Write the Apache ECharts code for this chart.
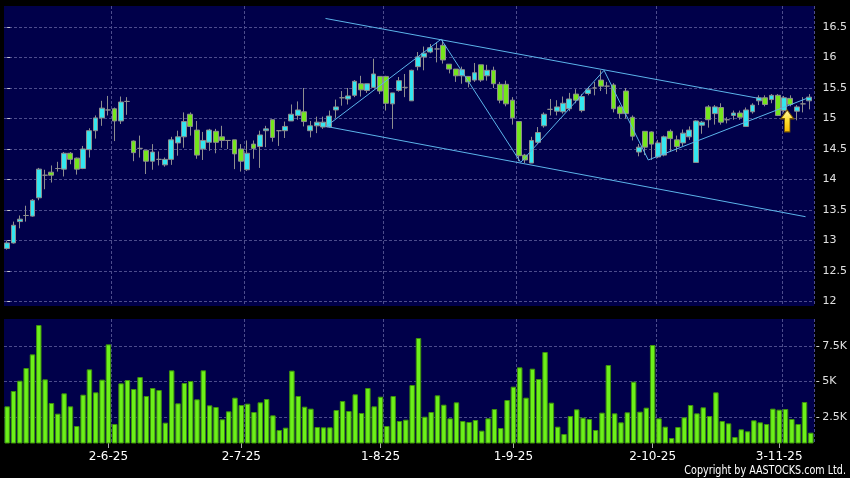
<!DOCTYPE html>
<html><head><meta charset="utf-8">
<script src="https://cdn.jsdelivr.net/npm/echarts@6/dist/echarts.min.js"></script>
<style>html,body{margin:0;padding:0;background:#000;}#c{width:850px;height:478px;}</style>
</head><body><div id="c"></div><script>
const dates = [
'9-5-25','12-5-25','13-5-25','14-5-25','15-5-25','16-5-25','19-5-25','20-5-25','21-5-25','22-5-25','23-5-25','26-5-25','27-5-25','28-5-25','29-5-25','30-5-25',
'2-6-25','3-6-25','4-6-25','5-6-25','6-6-25','9-6-25','10-6-25','11-6-25','12-6-25','13-6-25','16-6-25','17-6-25','18-6-25','19-6-25','20-6-25','23-6-25','24-6-25','25-6-25','26-6-25','27-6-25','30-6-25',
'2-7-25','3-7-25','4-7-25','7-7-25','8-7-25','9-7-25','10-7-25','11-7-25','14-7-25','15-7-25','16-7-25','17-7-25','18-7-25','21-7-25','22-7-25','23-7-25','24-7-25','25-7-25','28-7-25','29-7-25','30-7-25','31-7-25',
'1-8-25','4-8-25','5-8-25','6-8-25','7-8-25','8-8-25','11-8-25','12-8-25','13-8-25','14-8-25','15-8-25','18-8-25','19-8-25','20-8-25','21-8-25','22-8-25','25-8-25','26-8-25','27-8-25','28-8-25','29-8-25',
'1-9-25','2-9-25','3-9-25','4-9-25','5-9-25','8-9-25','9-9-25','10-9-25','11-9-25','12-9-25','15-9-25','16-9-25','17-9-25','18-9-25','19-9-25','22-9-25','23-9-25','24-9-25','25-9-25','26-9-25','29-9-25','30-9-25',
'2-10-25','3-10-25','6-10-25','8-10-25','9-10-25','10-10-25','13-10-25','14-10-25','15-10-25','16-10-25','17-10-25','20-10-25','21-10-25','22-10-25','23-10-25','24-10-25','27-10-25','28-10-25','30-10-25','31-10-25',
'3-11-25','4-11-25','5-11-25','6-11-25','7-11-25','10-11-25'
];
// [open, close, low, high]
const ohlc = [
[12.87,12.96,12.85,12.99],[12.96,13.25,12.95,13.31],[13.31,13.35,13.20,13.41],[13.41,13.41,13.31,13.57],[13.40,13.66,13.39,13.68],
[13.70,14.17,13.66,14.19],[14.07,14.07,13.84,14.16],[14.12,14.07,13.95,14.23],[14.18,14.18,14.13,14.29],[14.17,14.43,14.05,14.45],
[14.43,14.33,14.25,14.45],[14.35,14.17,14.08,14.36],[14.18,14.50,14.17,14.55],[14.49,14.80,14.36,14.84],[14.80,15.01,14.67,15.05],
[15.01,15.17,14.88,15.29],[15.14,15.14,15.05,15.37],[15.16,14.96,14.63,15.18],[14.96,15.27,14.91,15.36],[15.28,15.28,15.06,15.35],
[14.63,14.44,14.30,14.64],[14.51,14.51,14.36,14.72],[14.48,14.30,14.09,14.48],[14.30,14.45,14.16,14.58],[14.33,14.33,14.23,14.46],
[14.24,14.33,14.21,14.36],[14.33,14.65,14.24,14.70],[14.60,14.70,14.39,14.80],[14.70,14.95,14.52,15.10],[15.07,14.87,14.72,15.10],
[14.81,14.40,14.34,14.96],[14.50,14.64,14.32,14.78],[14.61,14.81,14.47,14.83],[14.79,14.61,14.43,14.83],[14.70,14.64,14.52,14.88],
[14.64,14.64,14.50,14.64],[14.65,14.42,14.17,14.65],[14.50,14.30,14.13,14.58],[14.16,14.43,14.14,14.64],[14.58,14.51,14.34,14.64],
[14.54,14.73,14.19,14.80],[14.80,14.83,14.53,14.88],[14.98,14.69,14.62,14.98],[14.80,14.80,14.55,14.80],[14.80,14.87,14.68,14.95],
[14.96,15.07,14.96,15.23],[15.05,15.14,14.98,15.28],[15.11,14.95,14.87,15.50],[14.80,14.88,14.69,14.96],[14.88,14.94,14.76,15.03],
[14.86,14.94,14.83,15.03],[14.86,15.04,14.85,15.13],[15.14,15.19,15.01,15.31],[15.34,15.34,15.21,15.45],[15.32,15.37,15.23,15.50],
[15.38,15.61,15.35,15.63],[15.57,15.47,15.36,15.70],[15.46,15.57,15.42,15.57],[15.51,15.73,15.51,15.98],[15.69,15.45,15.40,15.69],
[15.69,15.25,15.13,15.70],[15.24,15.42,14.83,15.42],[15.46,15.62,15.44,15.68],[15.51,15.51,15.35,15.73],[15.29,15.79,15.29,15.80],
[15.85,16.01,15.79,16.09],[16.01,16.07,15.79,16.18],[16.09,16.16,16.07,16.22],[16.14,16.14,15.92,16.25],[16.20,15.96,15.90,16.29],
[15.89,15.81,15.74,15.89],[15.81,15.70,15.60,15.81],[15.70,15.80,15.57,15.85],[15.69,15.60,15.51,15.69],[15.63,15.75,15.60,15.91],
[15.88,15.63,15.60,15.88],[15.70,15.79,15.62,15.88],[15.79,15.57,15.50,15.85],[15.56,15.30,15.25,15.60],[15.56,15.24,15.20,15.62],
[15.30,15.01,14.90,15.35],[14.95,14.39,14.30,14.95],[14.40,14.32,14.27,14.42],[14.27,14.64,14.27,14.70],[14.61,14.77,14.58,14.86],
[14.88,15.07,14.85,15.10],[15.15,15.15,15.05,15.32],[15.12,15.19,15.05,15.30],[15.11,15.25,15.08,15.36],[15.16,15.32,15.12,15.42],
[15.40,15.30,15.25,15.48],[15.13,15.36,15.10,15.40],[15.41,15.47,15.38,15.52],[15.50,15.50,15.38,15.60],[15.63,15.53,15.45,15.79],
[15.53,15.53,15.40,15.60],[15.55,15.16,15.10,15.58],[15.19,15.08,15.00,15.22],[15.45,15.08,15.00,15.50],[15.02,14.71,14.64,15.05],
[14.45,14.53,14.38,14.58],[14.79,14.53,14.40,14.79],[14.78,14.58,14.32,14.79],[14.37,14.60,14.35,14.65],[14.40,14.70,14.38,14.72],
[14.79,14.67,14.46,14.82],[14.65,14.54,14.45,14.72],[14.60,14.76,14.55,14.82],[14.70,14.81,14.65,14.87],[14.28,14.96,14.28,14.97],
[14.89,14.94,14.75,14.96],[15.19,14.98,14.85,15.22],[15.08,15.19,14.90,15.22],[15.18,14.94,14.90,15.25],[14.98,14.98,14.92,15.02],
[15.05,15.09,14.98,15.13],[15.09,15.02,14.98,15.13],[14.87,15.14,14.87,15.18],[15.11,15.22,15.08,15.25],[15.29,15.34,15.22,15.38],
[15.34,15.23,15.20,15.38],[15.31,15.38,15.25,15.40],[15.38,15.05,15.04,15.40],[15.13,15.34,15.10,15.37],[15.33,15.23,15.20,15.38],
[15.12,15.19,14.97,15.22],[15.24,15.24,15.10,15.35],[15.29,15.35,15.15,15.40]
];
const volume = [
3251,4331,5058,5950,6912,8978,5152,3486,2735,4166,3251,1866,4072,5856,4237,5129,7616,2007,4870,5105,
4472,5316,3979,4542,4401,2101,5786,3462,4894,5035,3744,5786,3321,3204,2336,2899,3861,3345,3439,2852,
3533,3767,2617,1585,1749,5762,3979,3228,3087,1796,1772,1772,2993,3627,2922,4096,2782,4542,3251,3932,
1866,3979,2218,2312,4753,8062,2523,2852,4026,3368,2406,3533,2218,2148,2289,1538,2406,3063,1725,3697,
4636,5997,3861,5903,5176,7077,3509,1819,1303,2570,3040,2453,2359,1585,2805,6161,2758,2124,2829,4988,
2876,3157,7570,2406,1819,1021,1796,2477,3345,2758,3181,2570,4237,2218,2054,1092,1632,1491,2265,2124,
2007,3087,3016,3063,2359,2007,3556,1397
];
const tickLabels = ['2-6-25','2-7-25','1-8-25','1-9-25','2-10-25','3-11-25'];
const priceRange = [12, 16.5, 0.5];
const volumeTicks = [2500, 7500, 2500];
// trend lines: [bar position, price]
const upperChannel = [[50.4,16.64],[119,15.33]];
const lowerChannel = [[50.5,14.87],[126.4,13.39]];
const zigzag = [[50.5,14.87],[68.7,16.30],[81.3,14.28],[94.5,15.79],[101.5,14.32],[126.6,15.33]];
const arrowMark = [[123.5,14.96]];

const NAVY = '#00004a';
const GRID_LINE = {color:'#4c4c8c', type:[3,2], width:1};
const labelIdx = new Set(tickLabels.map(t => dates.indexOf(t)));
const splitIdx = new Set(tickLabels.map(t => dates.indexOf(t) + 1));
const FONT = 'DejaVu Sans';
const hiddenCat = (gi) => ({type:'category', gridIndex:gi, data:dates, boundaryGap:true, show:false});
const TREND = {color:'#5cb4ea', width:1};

const chart = echarts.init(document.getElementById('c'), null, {renderer:'canvas'});
chart.setOption({
  backgroundColor:'#000',
  animation:false,
  grid:[
    {left:4, right:36, top:6, height:300, show:true, backgroundColor:NAVY, borderWidth:0},
    {left:4, right:36, top:27, height:274.5},
    {left:4, right:36, top:319, height:124, show:true, backgroundColor:NAVY, borderWidth:0},
    {left:4, right:36, top:346, height:71}
  ],
  xAxis:[
    {type:'category', gridIndex:0, data:dates, boundaryGap:true,
     axisLine:{show:false}, axisTick:{show:false}, axisLabel:{show:false},
     splitLine:{show:true, interval:(i)=>splitIdx.has(i), lineStyle:GRID_LINE}},
    hiddenCat(1),
    {type:'value', gridIndex:1, min:-0.5, max:dates.length-0.5, show:false},
    {type:'category', gridIndex:2, data:dates, boundaryGap:true,
     axisLine:{show:false},
     axisTick:{show:true, alignWithLabel:true, interval:(i)=>labelIdx.has(i), length:5, lineStyle:{color:'#aaaaaa'}},
     axisLabel:{show:true, interval:(i)=>labelIdx.has(i), color:'#ffffff', fontFamily:FONT, fontSize:12, margin:8},
     splitLine:{show:true, interval:(i)=>splitIdx.has(i), lineStyle:GRID_LINE}},
    hiddenCat(3)
  ],
  yAxis:[
    {type:'value', gridIndex:0, min:0, max:1, show:false},
    {type:'value', gridIndex:1, min:priceRange[0], max:priceRange[1], interval:priceRange[2], position:'right', offset:4,
     axisLine:{show:false}, axisTick:{show:true, length:3, lineStyle:{color:'#cccccc'}},
     axisLabel:{color:'#e0e0e0', fontFamily:FONT, fontSize:11, margin:6},
     splitLine:{show:true, lineStyle:GRID_LINE}},
    {type:'value', gridIndex:2, min:669, max:9401, show:false},
    {type:'value', gridIndex:3, min:volumeTicks[0], max:volumeTicks[1], interval:volumeTicks[2], position:'right', offset:4,
     axisLine:{show:false}, axisTick:{show:true, length:3, lineStyle:{color:'#cccccc'}},
     axisLabel:{color:'#e0e0e0', fontFamily:FONT, fontSize:11, margin:6, formatter:(v)=>(v/1000)+'K'},
     splitLine:{show:true, lineStyle:GRID_LINE}}
  ],
  series:[
    {type:'candlestick', xAxisIndex:1, yAxisIndex:1, data:ohlc, barWidth:'84%',
     itemStyle:{color:'#33e6f0', color0:'#74e61c', borderColor:'#8e8e8e', borderColor0:'#8e8e8e', borderColorDoji:'#8e8e8e', borderWidth:1}},
    {type:'line', xAxisIndex:2, yAxisIndex:1, data:upperChannel, symbol:'none', z:3, clip:false, lineStyle:TREND},
    {type:'line', xAxisIndex:2, yAxisIndex:1, data:lowerChannel, symbol:'none', z:3, clip:false, lineStyle:TREND},
    {type:'line', xAxisIndex:2, yAxisIndex:1, data:zigzag, symbol:'none', z:3, clip:false, lineStyle:TREND},
    {type:'scatter', xAxisIndex:2, yAxisIndex:1, data:arrowMark, z:5,
     symbol:'path://M6,0 L12,8 L8.5,8 L8.5,20 L3.5,20 L3.5,8 L0,8 Z', symbolSize:[13,22],
     itemStyle:{opacity:1, color:new echarts.graphic.LinearGradient(0,0,0,1,[{offset:0,color:'#fff8b8'},{offset:0.45,color:'#ffe033'},{offset:1,color:'#f5b800'}]),
       borderColor:'#7a5800', borderWidth:1}},
    {type:'bar', xAxisIndex:3, yAxisIndex:2, data:volume, barWidth:'86%',
     itemStyle:{color:'#6cf01a', borderColor:'#3f920c', borderWidth:1}}
  ],
  graphic:[
    {type:'text', x:846, y:471, scaleX:0.8, style:{text:'Copyright by AASTOCKS.com Ltd.', fill:'#ffffff',
      textAlign:'right', textVerticalAlign:'middle', font:'12px "DejaVu Sans", sans-serif'}}
  ]
});
</script></body></html>
